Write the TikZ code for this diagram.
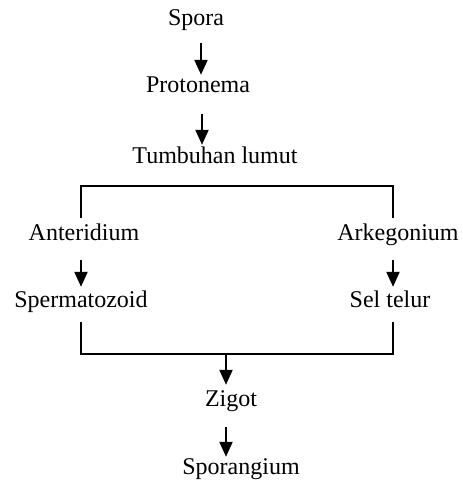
\documentclass[tikz,border=0pt]{standalone}
\usepackage{fontspec}
\setmainfont{Liberation Serif}
\usetikzlibrary{arrows.meta}
\begin{document}
\begin{tikzpicture}[x=1pt,y=-1pt,
  label/.style={inner sep=0pt,anchor=base,text height=16pt,text depth=5pt,
    font=\fontsize{24}{28}\selectfont},
  line/.style={line width=2pt,line cap=rect},
  arr/.style={line width=2.2pt,-{Triangle[length=15pt,width=13pt]}}]
\useasboundingbox (0,0) rectangle (463,480);

% stages of the life cycle
\node[label] (spora)  at (196,25)  {Spora};
\node[label] (proto)  at (198,92)  {Protonema};
\node[label] (tumb)   at (215,163) {Tumbuhan lumut};
\node[label] (anter)  at (84,240)  {Anteridium};
\node[label] (arkeg)  at (398,240) {Arkegonium};
\node[label] (sperm)  at (81,307)  {Spermatozoid};
\node[label] (sel)    at (390,307) {Sel telur};
\node[label] (zigot)  at (231,406) {Zigot};
\node[label] (sporg)  at (241,474) {Sporangium};

% arrow starting points
\coordinate (a1) at (201,43);
\coordinate (a2) at (202,114);
\coordinate (a3) at (81,260);
\coordinate (a4) at (393,260);
\coordinate (a5) at (226,354);
\coordinate (a6) at (226,427);

\draw[arr] (a1) -- ([yshift=1pt]a1 |- proto.north);
\draw[arr] (a2) -- ([yshift=2pt]a2 |- tumb.north);
\draw[arr] (a3) -- ([yshift=4pt]a3 |- sperm.north);
\draw[arr] (a4) -- ([yshift=4pt]a4 |- sel.north);
\draw[arr] (a5) -- ([yshift=5pt]a5 |- zigot.north);
\draw[arr] (a6) -- ([yshift=1pt]a6 |- sporg.north);

% upper bracket: branching into the two sex organs
\coordinate (bl) at (81,217);
\coordinate (br) at (393,217);
\draw[line] (bl) -- (81,186) -- (393,186) -- (br);

% lower bracket: fertilisation
\coordinate (cl) at (81,323);
\coordinate (cr) at (393,323);
\draw[line] (cl) -- (81,354) -- (393,354) -- (cr);
\end{tikzpicture}
\end{document}
